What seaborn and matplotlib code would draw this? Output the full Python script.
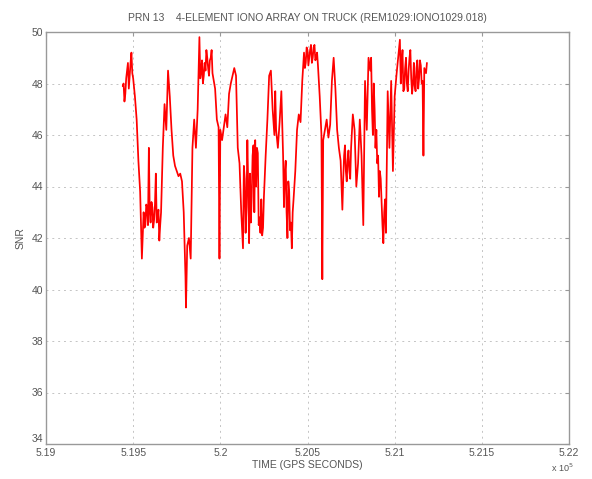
import matplotlib
matplotlib.use("Agg")
import matplotlib.pyplot as plt
import matplotlib.ticker as mticker
import matplotlib.transforms as mtransforms
import pandas as pd
import seaborn as sns

# GPS time (seconds) and SNR readings for PRN 13, in consecutive stretches
time_1 = [519440, 519445, 519450, 519455, 519460, 519465, 519470, 519475, 519480, 519485,
          519490, 519495, 519500, 519510, 519520, 519530, 519540, 519550, 519560, 519565,
          519570, 519575, 519580, 519585, 519590, 519595, 519600, 519605, 519610, 519615,
          519620, 519625, 519630, 519635, 519640, 519645, 519650, 519655, 519660]
snr_1 = [47.9, 48.0, 47.3, 47.6, 48.2, 48.5, 48.8, 47.8, 48.3, 48.8,
         49.2, 48.4, 48.2, 47.5, 46.6, 45.0, 43.8, 41.2, 43.0, 42.4,
         42.5, 43.3, 43.2, 42.5, 45.5, 43.0, 42.6, 43.4, 43.2, 42.4,
         42.7, 43.3, 44.5, 42.6, 42.8, 43.1, 41.9, 42.5, 43.0]

time_2 = [519670, 519680, 519690, 519700, 519710, 519720, 519730, 519740, 519750, 519760,
          519770, 519780, 519790, 519800, 519803, 519810, 519820, 519830, 519840, 519850,
          519860, 519870, 519880, 519885, 519890, 519895, 519900, 519905, 519910, 519915,
          519920, 519925, 519930, 519935, 519940, 519945, 519950, 519955, 519960, 519970,
          519980, 519990, 519995]
snr_2 = [45.5, 47.2, 46.2, 48.5, 47.5, 46.2, 45.2, 44.8, 44.6, 44.4,
         44.5, 44.2, 43.0, 40.5, 39.3, 41.7, 42.0, 41.2, 45.5, 46.6,
         45.5, 47.0, 49.8, 48.2, 48.5, 48.9, 48.0, 48.3, 48.8, 48.5,
         49.3, 49.0, 48.6, 48.3, 48.9, 49.0, 49.3, 48.4, 48.2, 47.8,
         46.6, 46.3, 41.2]

time_3 = [520000, 520010, 520020, 520030, 520040, 520050, 520060, 520070, 520080, 520090,
          520100, 520110, 520120, 520130, 520135, 520140, 520145, 520150, 520155, 520160,
          520165, 520170, 520175, 520180, 520185, 520190, 520195, 520200, 520205, 520210,
          520215, 520220, 520225, 520230, 520235, 520240, 520245, 520250]
snr_3 = [46.2, 45.8, 46.3, 46.8, 46.3, 47.6, 48.0, 48.3, 48.6, 48.3,
         45.5, 44.9, 43.0, 41.6, 44.8, 44.3, 42.2, 43.2, 45.8, 44.0,
         41.8, 44.5, 42.6, 43.6, 45.2, 45.6, 43.0, 45.8, 44.0, 45.5,
         45.3, 42.5, 42.8, 42.2, 43.5, 42.1, 42.4, 43.6]

time_4 = [520260, 520270, 520280, 520290, 520300, 520310, 520315, 520320, 520330, 520340,
          520350, 520360, 520365, 520370, 520375, 520380, 520385, 520390, 520395, 520400,
          520405, 520410, 520415, 520420, 520430, 520440, 520450, 520460, 520470, 520480,
          520485, 520490, 520495, 520500, 520505, 520510, 520515, 520520, 520525, 520530,
          520535, 520540, 520545, 520550, 520555, 520560]
snr_4 = [45.2, 46.6, 48.3, 48.5, 47.0, 46.0, 47.7, 46.2, 45.5, 46.5,
         47.7, 45.2, 43.2, 44.5, 45.0, 43.0, 42.0, 44.2, 43.8, 42.3,
         42.6, 41.6, 43.0, 43.5, 44.6, 46.2, 46.8, 46.5, 48.1, 49.2,
         48.6, 48.8, 49.4, 49.3, 48.7, 49.0, 49.3, 49.5, 48.8, 49.0,
         49.4, 49.5, 48.9, 49.0, 49.2, 48.7]

time_5 = [520570, 520580, 520585, 520590, 520600, 520610, 520620, 520630, 520640, 520650,
          520660, 520670, 520680, 520690, 520700, 520705, 520710, 520715, 520720, 520725,
          520730, 520735, 520740, 520745, 520750, 520760, 520770, 520780, 520790, 520800,
          520810, 520820]
snr_5 = [47.5, 46.0, 40.4, 45.8, 46.2, 46.6, 45.9, 46.4, 48.1, 49.0,
         47.8, 46.2, 45.5, 45.0, 43.1, 44.3, 45.2, 45.6, 44.6, 44.2,
         45.0, 45.4, 44.6, 44.3, 45.5, 46.8, 46.2, 44.0, 44.9, 46.6,
         45.2, 42.5]

time_6 = [520830, 520840, 520850, 520860, 520865, 520870, 520875, 520880, 520885, 520890,
          520895, 520900, 520905, 520910, 520915, 520920, 520925, 520930, 520935, 520940,
          520945, 520950, 520960, 520970, 520980, 520990, 521000, 521010, 521020, 521030,
          521035, 521040, 521045, 521050, 521055, 521060, 521065, 521070, 521075, 521080,
          521085, 521090, 521095, 521100, 521105, 521110, 521115, 521120, 521125, 521130,
          521135, 521140, 521145, 521150, 521155, 521160, 521165, 521170, 521180, 521185]
snr_6 = [48.1, 46.2, 49.0, 48.5, 49.0, 47.0, 46.0, 48.0, 47.0, 45.5,
         46.2, 44.9, 45.2, 43.6, 44.6, 44.3, 43.4, 42.5, 41.8, 43.0,
         43.5, 42.2, 47.7, 45.5, 48.1, 44.6, 47.5, 48.3, 49.0, 49.7,
         48.0, 48.8, 49.3, 47.7, 47.8, 48.6, 49.0, 48.0, 47.7, 48.5,
         49.0, 49.3, 48.2, 47.6, 48.0, 48.8, 47.9, 47.7, 48.6, 48.9,
         47.8, 48.2, 48.9, 48.7, 48.0, 48.1, 45.2, 48.6, 48.4, 48.8]

x_ticks = [519000, 519500, 520000, 520500, 521000, 521500, 522000]
y_ticks = [34, 36, 38, 40, 42, 44, 46, 48, 50]

df = pd.DataFrame({
    "time": time_1 + time_2 + time_3 + time_4 + time_5 + time_6,
    "snr": snr_1 + snr_2 + snr_3 + snr_4 + snr_5 + snr_6,
})

sns.set_style("white")
plt.rcParams["font.family"] = ["Liberation Sans", "DejaVu Sans"]

fig = plt.figure(figsize=(5.92, 4.79), dpi=100)
ax = fig.add_axes([46 / 592, 1 - 444 / 479, (569 - 46) / 592, (444 - 32) / 479])

sns.lineplot(data=df, x="time", y="snr", ax=ax, color="#ff0000",
             linewidth=1.25, estimator=None, sort=False)

ax.set_xlim(519000, 522000)
ax.set_ylim(34, 50)
ax.set_xticks(x_ticks)
ax.set_yticks(y_ticks)
ax.xaxis.set_major_formatter(mticker.FuncFormatter(lambda v, p: f"{v / 1e5:g}"))

txt = "#555555"
ax.grid(True, color="#c4c4c4", linestyle=(0, (2, 4)), linewidth=0.7)
for s in ax.spines.values():
    s.set_color("#999999")
    s.set_linewidth(1.0)
ax.tick_params(direction="in", length=3, color="#999999", labelcolor=txt,
               labelsize=7.5, top=True, right=True)
ax.tick_params(axis="x", pad=3)
ax.tick_params(axis="y", pad=2)

# lift the bottom y label a little so it sits above the first x label
lowest = ax.get_yticklabels()[0]
lowest.set_transform(lowest.get_transform()
                     + mtransforms.ScaledTranslation(0, 4 / 72, fig.dpi_scale_trans))

ax.set_title("PRN 13    4-ELEMENT IONO ARRAY ON TRUCK (REM1029:IONO1029.018)",
             fontsize=7.5, color=txt, pad=8)
ax.set_xlabel("TIME (GPS SECONDS)", fontsize=7.5, color=txt, labelpad=1)
ax.set_ylabel("SNR", fontsize=7.5, color=txt, labelpad=4)
fig.text(551 / 592, 1 - 472 / 479, r"x 10$^5$", fontsize=6.5, color=txt)

fig.savefig("out.png", dpi=100, facecolor="white")
